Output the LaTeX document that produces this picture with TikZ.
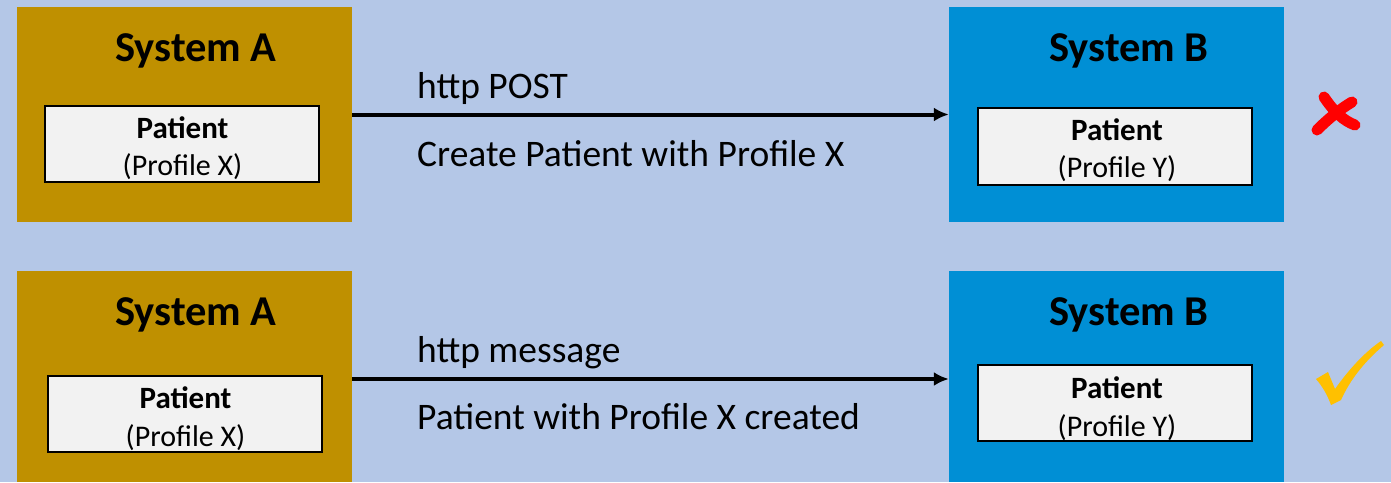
\documentclass[tikz,border=0pt]{standalone}
\usepackage{fontspec}
\setmainfont{Carlito}
\usetikzlibrary{positioning}
\usetikzlibrary{arrows.meta}
\definecolor{bg}{RGB}{180,199,231}
\definecolor{mygold}{RGB}{191,144,0}
\definecolor{myblue}{RGB}{0,143,213}
\definecolor{mylight}{RGB}{242,242,242}
\definecolor{myyellow}{RGB}{255,192,0}
\newcommand{\widthsystem}{335pt}
\newcommand{\widthpatient}{274pt}
\newcommand{\heightpatient}{76pt}
\tikzset{
    common/.style={draw=none, rectangle, inner sep=0pt, minimum width=\widthsystem},
    sysa/.style={common, fill=mygold},
    sysb/.style={common, fill=myblue},
    patient/.style={draw=black, line width=2pt, fill=mylight, rectangle, inner sep=0pt,
        minimum width=\widthpatient, minimum height=\heightpatient},
    title/.style={anchor=base, inner sep=0pt, font=\bfseries\fontsize{42.5}{50}\selectfont},
    ptitle/.style={anchor=base, inner sep=0pt, font=\bfseries\fontsize{31}{37}\selectfont},
    profile/.style={anchor=base, inner sep=0pt, font=\fontsize{30}{36}\selectfont},
    msg/.style={anchor=base west, inner sep=0pt, font=\fontsize{37.5}{44}\selectfont},
    flow/.style={-{Latex[length=15pt,width=14pt]}, line width=4pt},
}

\begin{document}
\begin{tikzpicture}[x=1pt, y=-1pt]
    \fill[bg] (0,0) rectangle (1391,482);
    \useasboundingbox (0,0) rectangle (1391,482);

    % first row: rejected
    \node[sysa, minimum height=215pt] (SA1) at (184.5,114.5) {};
    \node[sysb, minimum height=215pt] (SB1) at (1116.5,114.5) {};
    \node[title] (SA1-title) at (196,61) {System A};
    \node[title] (SB1-title) at (1129,61) {System B};
    \node[patient] (PA1) at (182,144) {};
    \node[patient, minimum height=77pt] (PB1) at (1115,146.5) {};
    \node[ptitle] (PA1-name) at (182.5,138) {Patient};
    \node[profile] (PA1-profile) at (182.5,175) {(Profile X)};
    \node[ptitle] (PB1-name) at (1117,140) {Patient};
    \node[profile] (PB1-profile) at (1117,177) {(Profile Y)};

    \draw[flow] (SA1.east) -- (SB1.west);
    \node[msg] (M1-top) at (417,98) {http POST};
    \node[msg] (M1-bottom) at (417,166) {Create Patient with Profile X};

    % second row: accepted
    \node[sysa, minimum height=211pt] (SA2) at (184.5,376.5) {};
    \node[sysb, minimum height=211pt] (SB2) at (1116.5,376.5) {};
    \node[title] (SA2-title) at (196,325) {System A};
    \node[title] (SB2-title) at (1129,325) {System B};
    \node[patient] (PA2) at (185,414) {};
    \node[patient] (PB2) at (1115,403) {};
    \node[ptitle] (PA2-name) at (185.5,408) {Patient};
    \node[profile] (PA2-profile) at (185.5,446) {(Profile X)};
    \node[ptitle] (PB2-name) at (1117,398) {Patient};
    \node[profile] (PB2-profile) at (1117,436) {(Profile Y)};

    \draw[flow] ([yshift=-2.5pt]SA2.east) -- ([yshift=-2.5pt]SB2.west);
    \node[msg] (M2-top) at (417,362) {http message};
    \node[msg] (M2-bottom) at (417,429) {Patient with Profile X created};

    % marks
    \draw[red, line width=11pt, line cap=round] (1324,97) .. controls (1334,112) and (1344,121) .. (1355,125);
    \draw[red, line width=11pt, line cap=round] (1352,102) .. controls (1340,109) and (1327,120) .. (1317,130);
    \fill[myyellow] (1316,379) -- (1328,372) .. controls (1331,380) .. (1335,389)
        .. controls (1350,368) and (1365,352) .. (1381,341) -- (1384,345)
        .. controls (1364,362) and (1350,380) .. (1341,400) -- (1331,405)
        .. controls (1327,394) and (1322,386) .. cycle;
\end{tikzpicture}
\end{document}
